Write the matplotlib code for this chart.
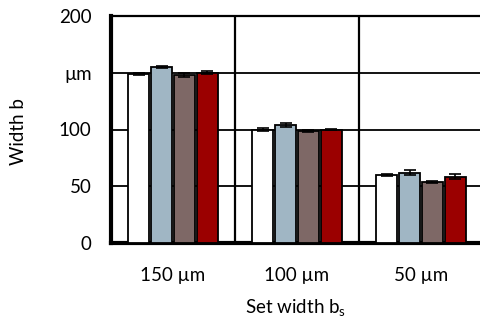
import matplotlib
matplotlib.use("Agg")
import matplotlib.pyplot as plt
import numpy as np

categories = ["150 µm", "100 µm", "50 µm"]
series_names = ["S1", "S2", "S3", "S4"]
values = [
    [149, 100, 60],
    [155, 104, 62],
    [148, 99, 54],
    [150, 100, 58.5],
]
errors = [
    [1.0, 1.0, 1.0],
    [1.2, 2.0, 2.0],
    [1.5, 1.0, 1.0],
    [1.5, 0.8, 2.0],
]
colors = ["#FFFFFF", "#A0B6C4", "#7E6866", "#9B0000"]
yticks = [0, 50, 100, 150, 200]
yticklabels = ["0", "50", "100", "µm", "200"]

plt.rcParams['font.family'] = ['Lato', 'DejaVu Sans']
fig = plt.figure(figsize=(4.8, 3.2), dpi=100)
ax = fig.add_axes([111/480, 1-243/320, (483-111)/480, (243-16)/320])

x = np.arange(len(categories))
step = 0.185
w = 0.172
for i, (v, e, c) in enumerate(zip(values, errors, colors)):
    ax.bar(x + (i-1.5)*step, v, width=w, color=c, edgecolor="black", linewidth=1.3, zorder=3,
           yerr=e, capsize=4, error_kw=dict(ecolor="black", elinewidth=1.2, capthick=1.2, zorder=4))

fs = 13.5
ax.set_xlim(-0.5, 2.5)
ax.set_ylim(0, 200)
ax.set_yticks(yticks)
ax.set_yticklabels(yticklabels)
ax.set_xticks(x)
ax.set_xticklabels(categories)
ax.set_xticks([0.5, 1.5, 2.5], minor=True)
ax.grid(True, axis="y", which="major", color="black", linewidth=1.3, zorder=1)
ax.grid(True, axis="x", which="minor", color="black", linewidth=1.6, zorder=1)
ax.tick_params(axis="both", which="both", length=0, labelsize=fs)
ax.tick_params(axis="y", pad=14)
ax.tick_params(axis="x", pad=17)
for s in ["top", "right"]:
    ax.spines[s].set_linewidth(1.6)
ax.spines["left"].set_linewidth(3)
ax.spines["bottom"].set_linewidth(3)
ax.set_ylabel("Width b", fontsize=fs)
ax.yaxis.set_label_coords(-(111-27)/(483-111), (243-132)/227)
ax.set_xlabel("Set width b$_\\mathregular{s}$", fontsize=fs)
ax.xaxis.set_label_coords((296-111)/(483-111), -(298-243)/227)

fig.savefig("out.png", dpi=100)
